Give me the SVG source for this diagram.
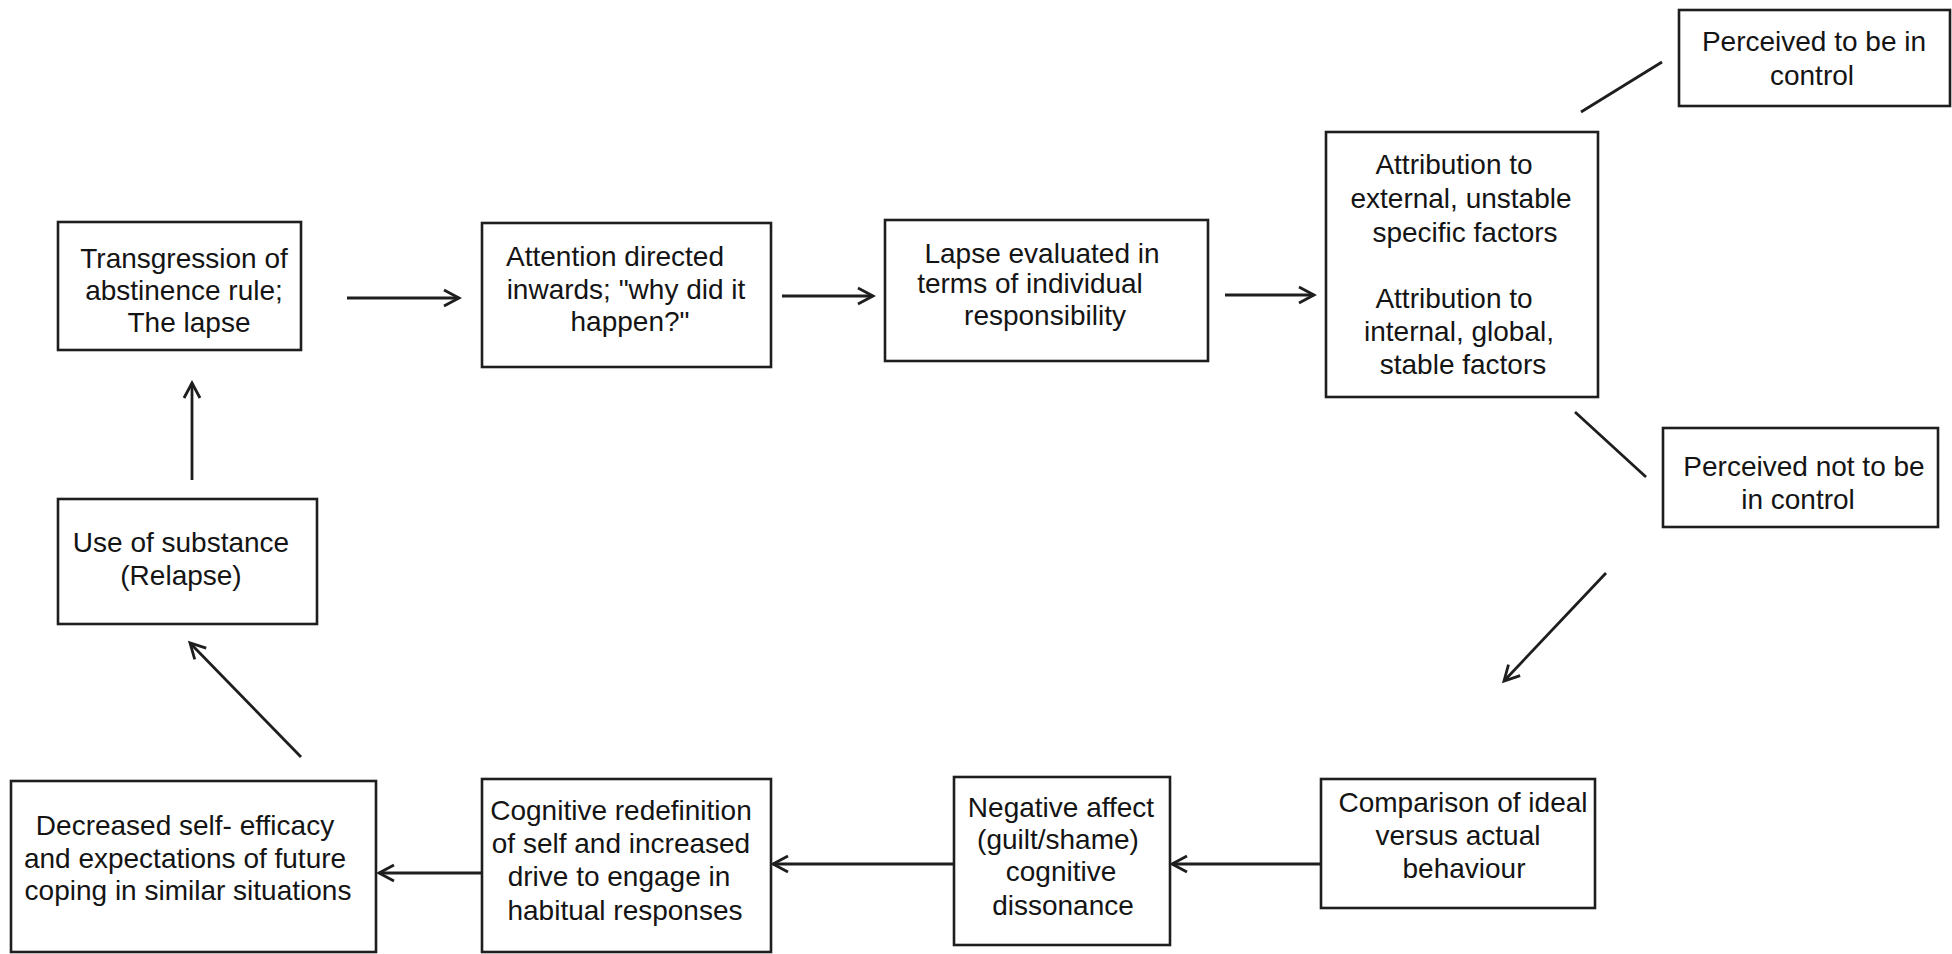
<svg xmlns="http://www.w3.org/2000/svg" width="1952" height="954" viewBox="0 0 1952 954">
<defs>
<style>
.box{fill:#fff;stroke:#1e1e1e;stroke-width:2.6}
.t{font-family:"Liberation Sans",Arial,sans-serif;font-size:28px;fill:#141414;text-anchor:middle}
.c{stroke:#1e1e1e;stroke-width:2.8;fill:none}
</style>
<marker id="ah" markerUnits="userSpaceOnUse" markerWidth="26" markerHeight="26" refX="20" refY="13" orient="auto">
<path d="M5,5 L20,13 L5,21" fill="none" stroke="#1e1e1e" stroke-width="2.8"/>
</marker>
</defs>
<rect width="1952" height="954" fill="#fff"/>
<g id="connectors">
<line class="c" x1="347" y1="298" x2="459" y2="298" marker-end="url(#ah)"/>
<line class="c" x1="782" y1="296" x2="873" y2="296" marker-end="url(#ah)"/>
<line class="c" x1="1225" y1="295" x2="1314" y2="295" marker-end="url(#ah)"/>
<line class="c" x1="1581" y1="112" x2="1662" y2="62"/>
<line class="c" x1="1575" y1="412" x2="1646" y2="477"/>
<line class="c" x1="1606" y1="573" x2="1504" y2="681" marker-end="url(#ah)"/>
<line class="c" x1="1321" y1="864" x2="1172" y2="864" marker-end="url(#ah)"/>
<line class="c" x1="954" y1="864" x2="773" y2="864" marker-end="url(#ah)"/>
<line class="c" x1="482" y1="873" x2="379" y2="873" marker-end="url(#ah)"/>
<line class="c" x1="301" y1="757" x2="190" y2="643" marker-end="url(#ah)"/>
<line class="c" x1="192" y1="480" x2="192" y2="383" marker-end="url(#ah)"/>
</g>
<g id="n1"><rect class="box" x="58" y="222" width="243" height="128"/>
<text class="t"><tspan x="184" y="268">Transgression of</tspan><tspan x="184" y="300">abstinence rule;</tspan><tspan x="189" y="332">The lapse</tspan></text></g>
<g id="n2"><rect class="box" x="482" y="223" width="289" height="144"/>
<text class="t"><tspan x="615" y="266">Attention directed</tspan><tspan x="626" y="299">inwards; "why did it</tspan><tspan x="630" y="331">happen?"</tspan></text></g>
<g id="n3"><rect class="box" x="885" y="220" width="323" height="141"/>
<text class="t"><tspan x="1042" y="263">Lapse evaluated in</tspan><tspan x="1030" y="293">terms of individual</tspan><tspan x="1045" y="325">responsibility</tspan></text></g>
<g id="n4"><rect class="box" x="1326" y="132" width="272" height="265"/>
<text class="t"><tspan x="1454" y="174">Attribution to</tspan><tspan x="1461" y="208">external, unstable</tspan><tspan x="1465" y="242">specific factors</tspan><tspan x="1454" y="308">Attribution to</tspan><tspan x="1459" y="341">internal, global,</tspan><tspan x="1463" y="374">stable factors</tspan></text></g>
<g id="n5"><rect class="box" x="1679" y="10" width="271" height="96"/>
<text class="t"><tspan x="1814" y="51">Perceived to be in</tspan><tspan x="1812" y="85">control</tspan></text></g>
<g id="n6"><rect class="box" x="1663" y="428" width="275" height="99"/>
<text class="t"><tspan x="1804" y="476">Perceived not to be</tspan><tspan x="1798" y="509">in control</tspan></text></g>
<g id="n7"><rect class="box" x="1321" y="779" width="274" height="129"/>
<text class="t"><tspan x="1463" y="812">Comparison of ideal</tspan><tspan x="1458" y="845">versus actual</tspan><tspan x="1464" y="878">behaviour</tspan></text></g>
<g id="n8"><rect class="box" x="954" y="777" width="216" height="168"/>
<text class="t"><tspan x="1061" y="817">Negative affect</tspan><tspan x="1058" y="849">(guilt/shame)</tspan><tspan x="1061" y="881">cognitive</tspan><tspan x="1063" y="915">dissonance</tspan></text></g>
<g id="n9"><rect class="box" x="482" y="779" width="289" height="173"/>
<text class="t"><tspan x="621" y="820">Cognitive redefinition</tspan><tspan x="621" y="853">of self and increased</tspan><tspan x="619" y="886">drive to engage in</tspan><tspan x="625" y="920">habitual responses</tspan></text></g>
<g id="n10"><rect class="box" x="11" y="781" width="365" height="171"/>
<text class="t"><tspan x="185" y="835">Decreased self- efficacy</tspan><tspan x="185" y="868">and expectations of future</tspan><tspan x="188" y="900">coping in similar situations</tspan></text></g>
<g id="n11"><rect class="box" x="58" y="499" width="259" height="125"/>
<text class="t"><tspan x="181" y="552">Use of substance</tspan><tspan x="181" y="585">(Relapse)</tspan></text></g>
</svg>
